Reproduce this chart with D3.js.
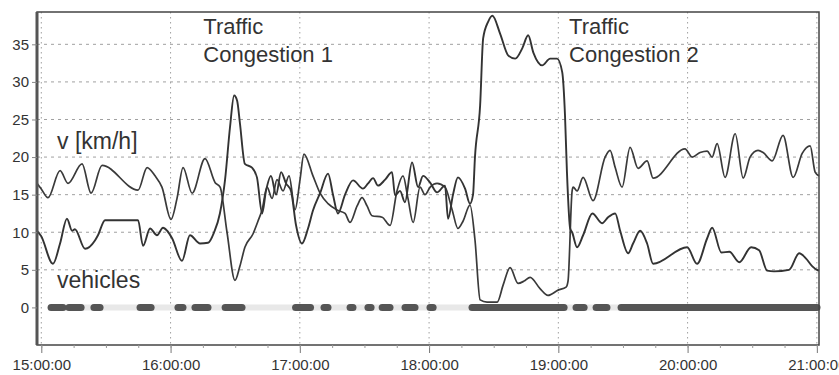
<!DOCTYPE html>
<html>
<head>
<meta charset="utf-8">
<script src="https://cdn.jsdelivr.net/npm/d3@7"></script>
<style>
  body { margin: 0; background: #fff; }
  svg text { font-family: "Liberation Sans", Arial, sans-serif; fill: #333; }
</style>
</head>
<body>
<svg class="chart" width="839" height="375"></svg>
<script>
// times are minutes after 15:00:00
const vTime = [-2, -0.1, 3.1, 8.7, 12.4, 18.9, 23.1, 28.2, 44.9, 49.1, 52.8, 56.0, 60.2, 63.0, 65.8, 70.0, 76.0, 80.7, 83.0, 86.2,
  89.9, 92.2, 94.5, 98.3, 100.6, 102.5, 104.8, 107.1, 109.4, 112.2, 115.0, 117.8, 120.1, 121.9, 126.1, 129.4, 133.1, 137.7, 141.0, 143.3,
  146.6, 148.9, 151.2, 153.5, 158.2, 161.9, 165.1, 167.9, 170.2, 172.6, 175.8, 178.1, 180.5, 183.7, 187.4, 190.7, 193.4, 195.8, 199.0, 201.3,
  203.7, 206.9, 211.6, 214.4, 217.6, 221.3, 224.1, 226.9, 231.5, 235.2, 239.9, 243.6, 244.5, 246.4, 246.9, 248.7, 251.5, 256.1, 261.7, 264.0,
  266.4, 269.6, 273.3, 277.0, 281.2, 284.0, 298.8, 302.1, 305.8, 309.1, 311.4, 313.7, 317.4, 322.1, 325.8, 329.0, 332.7, 335.1, 339.3, 344.3,
  349.0, 353.2, 356.9, 359.2, 361.0];
const vValue = [16.5, 15.8, 14.6, 18.2, 16.5, 19.1, 15.2, 18.9, 15.6, 18.6, 17.5, 16.0, 11.7, 14.5, 18.6, 15.2, 19.8, 16.6, 16.0, 10.0,
  3.6, 5.5, 8.0, 9.8, 11.5, 13.0, 16.0, 14.5, 17.0, 15.5, 17.5, 13.0, 17.0, 20.4, 17.5, 15.2, 13.8, 12.9, 12.5, 11.3,
  13.5, 14.6, 13.5, 12.2, 12.0, 10.9, 15.5, 17.5, 14.5, 11.3, 16.0, 15.0, 16.0, 16.5, 16.0, 13.0, 10.5, 11.5, 13.6, 9.0,
  1.0, 0.7, 0.7, 3.0, 5.3, 3.2, 3.5, 4.0, 2.5, 1.6, 2.3, 2.7, 3.5, 15.5, 16.0, 15.5, 17.3, 14.2, 20.0, 20.9,
  18.6, 16.0, 21.3, 18.5, 19.5, 17.2, 21.1, 20.0, 20.6, 20.8, 20.0, 21.8, 17.3, 23.1, 17.2, 20.0, 20.9, 20.6, 19.5, 22.9,
  17.3, 20.5, 21.5, 18.0, 17.5];

const nTime = [-2, -0.1, 5.4, 8.7, 11.9, 14.3, 15.6, 20.3, 24.9, 26.3, 29.6, 44.9, 47.2, 50.5, 53.7, 56.5, 58.4, 60.7, 65.3, 69.0,
  73.7, 77.4, 80.2, 82.9, 85.3, 87.6, 89.5, 90.9, 92.2, 94.5, 97.8, 100.1, 102.5, 104.3, 106.6, 109.0, 111.3, 113.6, 115.9, 118.2,
  121.0, 123.8, 126.1, 129.4, 133.1, 135.4, 137.7, 141.0, 144.7, 149.3, 151.7, 154.0, 156.3, 159.6, 162.8, 164.2, 166.5, 168.8, 172.1, 174.9,
  177.2, 180.5, 183.7, 187.4, 188.8, 191.1, 193.4, 196.7, 199.0, 200.4, 201.3, 203.7, 205.1, 207.4, 209.4, 213.0, 216.8, 220.0, 223.3, 226.0,
  228.4, 232.5, 236.2, 239.4, 241.8, 243.1, 244.0, 245.5, 246.4, 248.7, 251.5, 255.8, 260.3, 263.1, 266.4, 268.7, 272.4, 274.7, 278.0, 281.2,
  284.0, 299.8, 304.4, 309.1, 311.4, 315.7, 319.4, 324.0, 329.5, 333.2, 336.9, 340.1, 347.1, 351.8, 355.0, 357.8, 360.1, 361.0];
const nValue = [10.2, 9.5, 5.8, 8.5, 11.8, 10.2, 10.4, 7.8, 8.9, 9.6, 11.6, 11.6, 8.2, 10.5, 9.6, 10.6, 10.2, 9.2, 6.2, 9.6,
  8.5, 8.6, 10.0, 12.5, 17.0, 24.0, 28.2, 27.5, 24.5, 19.1, 18.6, 17.3, 12.5, 15.5, 17.5, 15.0, 18.0, 16.5, 15.5, 11.0,
  8.5, 10.5, 12.9, 15.2, 17.8, 15.0, 12.5, 15.0, 16.9, 15.8, 16.5, 17.2, 16.2, 17.0, 18.0, 14.9, 15.5, 14.0, 19.3, 16.0,
  17.5, 16.6, 15.3, 16.2, 11.8, 15.0, 17.3, 15.8, 13.8, 15.0, 20.0, 26.9, 35.8, 38.0, 38.8, 36.4, 33.5, 33.1, 34.5, 36.2,
  33.9, 32.2, 33.1, 33.1, 31.3, 25.5, 18.0, 10.5, 10.0, 8.0, 9.6, 12.5, 11.2, 12.0, 12.5, 10.2, 7.2, 8.5, 10.2, 8.5,
  5.8, 8.0, 5.8, 9.2, 10.6, 7.3, 7.4, 6.0, 8.0, 7.6, 4.9, 4.8, 5.0, 7.2, 6.5, 5.5, 5.0, 4.9];

// stretches where vehicles were detected (minutes after 15:00)
const busyStart = [3.6, 11.9, 23.5, 44.9, 62.5, 70.4, 84.4, 117.1, 130.3, 142.4, 150.7, 157.3, 167.9, 179.5, 199.0, 247.3, 256.6, 268.2];
const busyEnd   = [11.0, 19.4, 28.2, 51.9, 66.7, 78.3, 94.1, 125.9, 134.0, 145.6, 154.0, 162.8, 174.4, 182.8, 243.6, 252.9, 263.5, 361.0];

const yTicks = [0, 5, 10, 15, 20, 25, 30, 35];
const hourLabels = ["15:00:00", "16:00:00", "17:00:00", "18:00:00", "19:00:00", "20:00:00", "21:00:00"];

const svg = d3.select(".chart");
const box = { left: 37, right: 819, top: 12, bottom: 345 };

const base = new Date(2000, 0, 1, 15, 0, 0);
const t = m => new Date(base.getTime() + m * 60000);
const parseHour = d3.timeParse("%H:%M:%S");
const hours = hourLabels.map(s => {
  const p = parseHour(s);
  return new Date(2000, 0, 1, p.getHours(), 0, 0);
});

const x = d3.scaleTime()
  .domain([t(-2), t(361)])
  .range([box.left, box.right]);

const y = d3.scaleLinear()
  .domain([-5, 39.3])
  .range([box.bottom, box.top]);

// grid
svg.append("g")
  .selectAll("line")
  .data(yTicks.filter(d => d > 0))
  .enter().append("line")
  .attr("x1", box.left).attr("x2", box.right)
  .attr("y1", d => y(d)).attr("y2", d => y(d))
  .attr("stroke", "#a0a0a0")
  .attr("stroke-dasharray", "3,4");

svg.append("g")
  .selectAll("line")
  .data(hours)
  .enter().append("line")
  .attr("x1", d => x(d)).attr("x2", d => x(d))
  .attr("y1", box.top).attr("y2", box.bottom)
  .attr("stroke", "#a0a0a0")
  .attr("stroke-dasharray", "1.5,3.5");

// vehicle presence bar at 0
svg.append("line")
  .attr("x1", x(t(busyStart[0]))).attr("x2", x(t(361)))
  .attr("y1", y(0)).attr("y2", y(0))
  .attr("stroke", "#e8e8e8")
  .attr("stroke-width", 6);

svg.append("g")
  .selectAll("line")
  .data(busyStart.map((s, i) => [s, busyEnd[i]]))
  .enter().append("line")
  .attr("x1", d => x(t(d[0])) + 2).attr("x2", d => x(t(d[1])) - 2)
  .attr("y1", y(0)).attr("y2", y(0))
  .attr("stroke", "#555")
  .attr("stroke-width", 7)
  .attr("stroke-linecap", "round");

// lines
const line = d3.line()
  .x(d => x(t(d[0])))
  .y(d => y(d[1]))
  .curve(d3.curveMonotoneX);

svg.append("path")
  .datum(vTime.map((m, i) => [m, vValue[i]]))
  .attr("d", line)
  .attr("fill", "none")
  .attr("stroke", "#3a3a3a")
  .attr("stroke-width", 1.7);

svg.append("path")
  .datum(nTime.map((m, i) => [m, nValue[i]]))
  .attr("d", line)
  .attr("fill", "none")
  .attr("stroke", "#333")
  .attr("stroke-width", 1.9);

// frame
svg.append("rect")
  .attr("x", box.left).attr("y", box.top)
  .attr("width", box.right - box.left).attr("height", box.bottom - box.top)
  .attr("fill", "none")
  .attr("stroke", "#444")
  .attr("stroke-width", 1.5);
svg.append("line")
  .attr("x1", box.left).attr("x2", box.left)
  .attr("y1", box.top).attr("y2", box.bottom)
  .attr("stroke", "#555")
  .attr("stroke-width", 3);

// axes
const xAxis = svg.append("g")
  .attr("transform", `translate(0,${box.bottom})`)
  .call(d3.axisBottom(x).tickValues(hours).tickFormat(d3.timeFormat("%H:%M:%S")).tickSize(8).tickPadding(6));
xAxis.select(".domain").remove();
xAxis.selectAll("text").style("font-size", "15px").attr("fill", "#333");
xAxis.selectAll("line").attr("stroke", "#777");

const minor = svg.append("g")
  .attr("transform", `translate(0,${box.bottom})`)
  .call(d3.axisBottom(x).ticks(d3.timeMinute.every(15)).tickFormat("").tickSize(3));
minor.select(".domain").remove();
minor.selectAll("line").attr("stroke", "#999");

const yAxis = svg.append("g")
  .attr("transform", `translate(${box.left},0)`)
  .call(d3.axisLeft(y).tickValues(yTicks).tickSize(5).tickPadding(3));
yAxis.select(".domain").remove();
yAxis.selectAll("text").style("font-size", "15px").attr("fill", "#333");
yAxis.selectAll("line").attr("stroke", "#888");

// annotations
const notes = [
  { lines: ["Traffic", "Congestion 1"], at: 75.2 },
  { lines: ["Traffic", "Congestion 2"], at: 245 }
];
notes.forEach(n => {
  const g = svg.append("text")
    .attr("x", x(t(n.at)))
    .attr("y", 34)
    .style("font-size", "22px")
    .attr("fill", "#383838");
  n.lines.forEach((s, i) => g.append("tspan").attr("x", x(t(n.at))).attr("dy", i ? 28 : 0).text(s));
});

svg.append("text")
  .attr("x", x(t(7.3))).attr("y", y(21.1))
  .style("font-size", "23px")
  .attr("fill", "#383838")
  .text("v [km/h]");

svg.append("text")
  .attr("x", x(t(7.3))).attr("y", y(2.6))
  .style("font-size", "23px")
  .attr("fill", "#383838")
  .text("vehicles");
</script>
</body>
</html>
